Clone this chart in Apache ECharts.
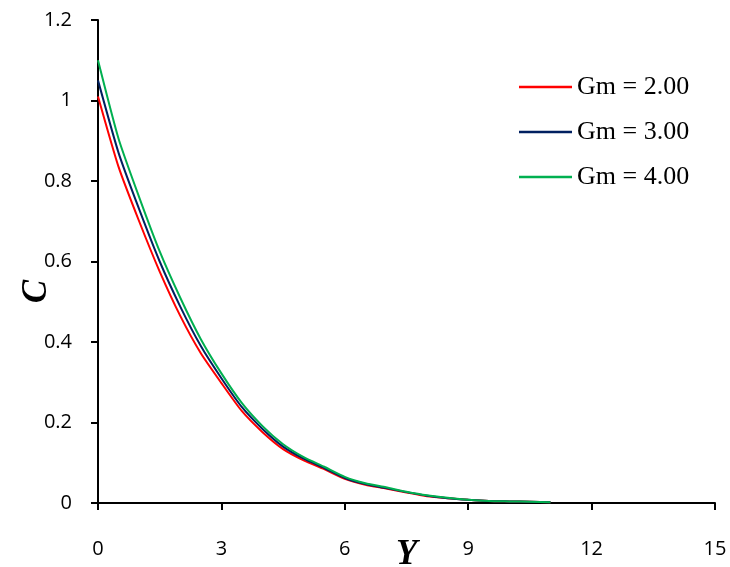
<!DOCTYPE html>
<html lang="en">
<head>
    <meta charset="UTF-8">
    <title>C vs Y</title>
    <script src="https://cdn.jsdelivr.net/npm/echarts@6/dist/echarts.min.js"></script>
    <style>
        html, body { margin: 0; padding: 0; background: #fff; }
        #main { width: 730px; height: 567px; }
    </style>
</head>
<body>
    <div id="main"></div>
    <script>
        // Y positions (shared by all curves)
        const yPos = [0, 0.5, 1, 1.5, 2, 2.5, 3, 3.5, 4, 4.5, 5, 5.5, 6, 6.5, 7, 7.5, 8, 8.5, 9, 9.5, 10, 10.5, 11];

        // concentration C for each Gm
        const cGm2 = [1.01, 0.835, 0.700, 0.575, 0.465, 0.372, 0.298, 0.228, 0.176, 0.134, 0.106, 0.084, 0.060, 0.045, 0.036, 0.026, 0.017, 0.012, 0.008, 0.005, 0.004, 0.003, 0.002];
        const cGm3 = [1.05, 0.870, 0.730, 0.600, 0.488, 0.390, 0.310, 0.238, 0.184, 0.140, 0.110, 0.087, 0.062, 0.047, 0.037, 0.027, 0.018, 0.012, 0.008, 0.005, 0.004, 0.003, 0.002];
        const cGm4 = [1.10, 0.905, 0.760, 0.625, 0.510, 0.407, 0.322, 0.248, 0.191, 0.146, 0.114, 0.090, 0.065, 0.049, 0.039, 0.028, 0.019, 0.013, 0.008, 0.005, 0.004, 0.003, 0.002];

        const seriesNames = ['Gm = 2.00', 'Gm = 3.00', 'Gm = 4.00'];
        const seriesColors = ['#ff0000', '#002060', '#00b050'];
        const xTicks = [0, 15, 3];   // min, max, interval
        const yTicks = [0, 1.2, 0.2];

        const chart = echarts.init(document.getElementById('main'));

        const pairs = vals => yPos.map((y, i) => [y, vals[i]]);

        const option = {
            animation: false,
            grid: { left: 98, right: 15, top: 20, bottom: 64, outerBoundsMode: 'none', containLabel: false },
            legend: {
                orient: 'vertical',
                left: 514,
                top: 69,
                icon: 'rect',
                itemWidth: 53,
                itemHeight: 2.5,
                itemGap: 19,
                textStyle: {
                    fontFamily: 'Liberation Serif',
                    fontSize: 26,
                    color: '#000',
                    lineHeight: 26
                },
                data: seriesNames
            },
            xAxis: {
                type: 'value',
                min: xTicks[0],
                max: xTicks[1],
                interval: xTicks[2],
                axisLine: { lineStyle: { color: '#000', width: 2 } },
                axisTick: { show: true, length: 7, lineStyle: { color: '#000', width: 2 } },
                axisLabel: {
                    margin: 36,
                    fontFamily: 'Open Sans',
                    fontSize: 20,
                    color: '#000'
                },
                splitLine: { show: false }
            },
            yAxis: {
                type: 'value',
                min: yTicks[0],
                max: yTicks[1],
                interval: yTicks[2],
                axisLine: { show: true, lineStyle: { color: '#000', width: 2 } },
                axisTick: { show: true, length: 7, lineStyle: { color: '#000', width: 2 } },
                axisLabel: {
                    margin: 26,
                    fontFamily: 'Open Sans',
                    fontSize: 20,
                    color: '#000'
                },
                splitLine: { show: false }
            },
            // axis titles
            graphic: [{
                type: 'text',
                left: 19,
                top: 280,
                rotation: Math.PI / 2,
                style: {
                    text: 'C',
                    fontFamily: 'Liberation Serif',
                    fontStyle: 'italic',
                    fontWeight: 'bold',
                    fontSize: 35,
                    fill: '#000'
                }
            }, {
                type: 'text',
                left: 396,
                top: 537,
                style: {
                    text: 'Y',
                    fontFamily: 'Liberation Serif',
                    fontStyle: 'italic',
                    fontWeight: 'bold',
                    fontSize: 35,
                    fill: '#000'
                }
            }],
            series: [
                { name: seriesNames[0], data: pairs(cGm2) },
                { name: seriesNames[1], data: pairs(cGm3) },
                { name: seriesNames[2], data: pairs(cGm4) }
            ].map((s, i) => Object.assign(s, {
                type: 'line',
                smooth: 0.2,
                symbol: 'none',
                color: seriesColors[i],
                lineStyle: { width: 2, color: seriesColors[i] }
            }))
        };

        chart.setOption(option);
    </script>
</body>
</html>
